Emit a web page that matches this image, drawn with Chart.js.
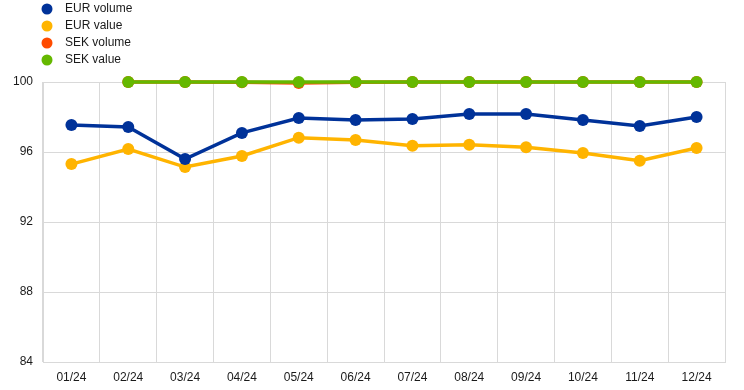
<!DOCTYPE html>
<html>
<head>
<meta charset="utf-8">
<script src="https://cdn.jsdelivr.net/npm/chart.js@4"></script>
<style>
  html, body { margin: 0; padding: 0; background: #fff; }
  #wrap { width: 744px; height: 390px; position: relative; }
</style>
</head>
<body>
<div id="wrap"><canvas id="chart"></canvas></div>
<script>
// months on the x axis
let months = ['01/24', '02/24', '03/24', '04/24', '05/24', '06/24', '07/24', '08/24', '09/24', '10/24', '11/24', '12/24']

// series values
let eurVolume = [97.54, 97.43, 95.6, 97.09, 97.94, 97.83, 97.89, 98.17, 98.17, 97.83, 97.49, 98.0]
let eurValue = [95.31, 96.17, 95.14, 95.77, 96.82, 96.69, 96.36, 96.42, 96.27, 95.94, 95.5, 96.23]
let sekVolume = [null, 100, 100, 99.99, 99.94, 99.99, 100, 100, 100, 100, 100, 100]
let sekValue = [null, 100, 100, 100, 100, 100, 100, 100, 100, 100, 100, 100]

// y axis ticks
let yMin = 84
let yMax = 100
let yStep = 4

const FONT = 'Arial, "Liberation Sans", sans-serif'
const TEXT = '#1a1a1a'

let makeSet = (label, data, color, order) => ({
	label,
	data,
	order,
	borderColor: color,
	backgroundColor: color,
	pointBackgroundColor: color,
	pointBorderWidth: 0,
	pointRadius: 6,
	borderWidth: 3.5,
	tension: 0,
	clip: false,
	spanGaps: false,
})

// legend drawn as a vertical list above the plot
const listLegend = {
	id: 'listLegend',
	afterDraw(chart) {
		const ctx = chart.ctx
		ctx.save()
		ctx.font = '12px ' + FONT
		ctx.textBaseline = 'middle'
		chart.data.datasets.forEach((ds, i) => {
			let y = 9 + i * 17
			ctx.fillStyle = ds.borderColor
			ctx.beginPath()
			ctx.arc(47, y, 5.5, 0, Math.PI * 2)
			ctx.fill()
			ctx.fillStyle = TEXT
			ctx.fillText(ds.label, 65, y)
		})
		ctx.restore()
	}
}

new Chart(document.getElementById('chart'), {
	type: 'line',
	data: {
		labels: months,
		datasets: [
			makeSet('EUR volume', eurVolume, '#003299', 0),
			makeSet('EUR value', eurValue, '#ffb400', 3),
			makeSet('SEK volume', sekVolume, '#ff4b00', 2),
			makeSet('SEK value', sekValue, '#65b800', 1),
		]
	},
	options: {
		responsive: true,
		maintainAspectRatio: false,
		animation: false,
		layout: { padding: { top: 82, right: 19, bottom: 0, left: 0 } },
		plugins: {
			legend: { display: false },
			tooltip: { enabled: false },
		},
		scales: {
			x: {
				offset: true,
				afterFit: (scale) => { scale.height = 28 },
				grid: { offset: true, color: '#d9d9d9', drawTicks: false },
				border: { color: '#d9d9d9' },
				ticks: { color: TEXT, font: { family: FONT, size: 12 }, padding: 8, maxRotation: 0 },
			},
			y: {
				min: yMin,
				max: yMax,
				afterFit: (scale) => { scale.width = 43 },
				grid: { color: '#d9d9d9', drawTicks: false },
				border: { color: '#d9d9d9' },
				ticks: { stepSize: yStep, color: TEXT, font: { family: FONT, size: 12 }, padding: 10 },
			}
		}
	},
	plugins: [listLegend]
});
</script>
</body>
</html>
